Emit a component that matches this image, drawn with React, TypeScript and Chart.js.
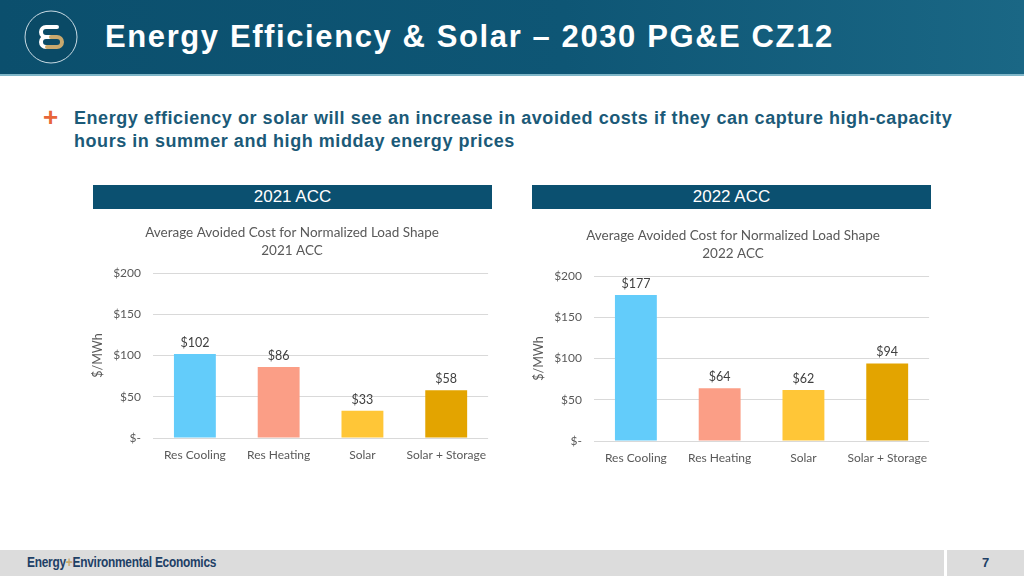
import React, { useEffect, useRef } from "react";
import { Chart, registerables } from "chart.js";

Chart.register(...registerables);

const categories = ["Res Cooling", "Res Heating", "Solar", "Solar + Storage"];
const values2021 = [102, 86, 33, 58];
const values2022 = [177, 64, 62, 94];
const yTickLabels = ["$-", "$50", "$100", "$150", "$200"];
const chartTitleLine = "Average Avoided Cost for Normalized Load Shape";
const yAxisTitle = "$/MWh";
const barColors = ["#63CCFA", "#FB9E86", "#FFC637", "#E3A400"];

const CHART_FONT = "Lato, 'Open Sans', sans-serif";
const GREY = "#595959";

const dataLabelPlugin = {
  id: "dataLabels",
  afterDatasetsDraw(chart: any) {
    const ctx = chart.ctx;
    chart.data.datasets.forEach((ds: any, i: number) => {
      const meta = chart.getDatasetMeta(i);
      meta.data.forEach((el: any, j: number) => {
        ctx.save();
        ctx.fillStyle = "#404040";
        ctx.font = `12.5px ${CHART_FONT}`;
        ctx.textAlign = "center";
        ctx.textBaseline = "bottom";
        ctx.fillText("$" + ds.data[j], el.x, el.y - 5);
        ctx.restore();
      });
    });
  },
};

function BarPanel(props: { left: number; top: number; year: string; values: number[] }) {
  const ref = useRef<HTMLCanvasElement | null>(null);
  useEffect(() => {
    if (!ref.current) return;
    const chart = new Chart(ref.current, {
      type: "bar",
      data: {
        labels: categories,
        datasets: [
          {
            data: props.values,
            backgroundColor: barColors,
            categoryPercentage: 1,
            barPercentage: 0.5,
          },
        ],
      },
      options: {
        animation: false,
        responsive: false,
        layout: { padding: { left: 0, right: 0, top: 0, bottom: 0 } },
        plugins: {
          legend: { display: false },
          tooltip: { enabled: false },
          title: {
            display: true,
            text: [chartTitleLine, props.year],
            color: GREY,
            font: { family: CHART_FONT, size: 13.5, weight: "normal", lineHeight: 1.3 },
            padding: { top: 0, bottom: 14 },
          },
        },
        scales: {
          x: {
            grid: { display: false, drawTicks: false },
            border: { display: false },
            ticks: {
              color: GREY,
              font: { family: CHART_FONT, size: 12 },
              padding: 10,
              maxRotation: 0,
              minRotation: 0,
              autoSkip: false,
            },
            afterFit: (scale: any) => {
              scale.height = 32;
            },
          },
          y: {
            min: 0,
            max: 200,
            border: { display: false },
            grid: { color: "#D9D9D9", drawTicks: false },
            ticks: {
              stepSize: 50,
              color: GREY,
              padding: 12,
              font: { family: CHART_FONT, size: 12 },
              callback: (_v: any, idx: number) => yTickLabels[idx],
            },
            title: {
              display: true,
              text: yAxisTitle,
              color: GREY,
              font: { family: CHART_FONT, size: 12.5 },
              padding: { top: 2, bottom: 0 },
            },
            afterFit: (scale: any) => {
              scale.width = 65;
            },
          },
        },
      } as any,
      plugins: [dataLabelPlugin],
    });
    return () => chart.destroy();
  }, []);
  return (
    <canvas
      ref={ref}
      width={408}
      height={246}
      style={{ position: "absolute", left: props.left, top: props.top, width: 408, height: 246 }}
    />
  );
}

function Logo() {
  return (
    <svg width={60} height={60} viewBox="0 0 60 60" style={{ position: "absolute", left: 21, top: 7 }}>
      <circle cx={30} cy={30} r={26} fill="#0a4a66" stroke="#c9dbe4" strokeWidth={1} />
      <path
        d="M36 20 H25 a5 5 0 0 0 0 10 H33 M25 30 a5 5 0 0 0 0 10 H30"
        fill="none"
        stroke="#ffffff"
        strokeWidth={4}
        strokeLinecap="round"
      />
      <path
        d="M30 30 H36 a5 5 0 0 1 0 10 H26"
        fill="none"
        stroke="#C9A96E"
        strokeWidth={4}
        strokeLinecap="round"
      />
    </svg>
  );
}

export default function App() {
  useEffect(() => {
    document.body.style.margin = "0";
  }, []);
  const arial = "'Liberation Sans', Arial, sans-serif";
  return (
    <div
      style={{
        position: "fixed",
        left: 0,
        top: 0,
        width: 1024,
        height: 576,
        overflow: "hidden",
        background: "#ffffff",
        fontFamily: arial,
      }}
    >
      {/* Header */}
      <div
        style={{
          position: "absolute",
          left: 0,
          top: 0,
          width: 1024,
          height: 74,
          background: "linear-gradient(90deg, #0b4f6d 0%, #0e5675 55%, #1a6785 100%)",
          borderBottom: "2px solid #7fb6c8",
        }}
      />
      <Logo />
      <div
        style={{
          position: "absolute",
          left: 105,
          top: 18,
          color: "#ffffff",
          fontWeight: "bold",
          fontSize: 31,
          letterSpacing: 1.6,
          lineHeight: "37px",
          whiteSpace: "nowrap",
        }}
      >
        Energy Efficiency &amp; Solar – 2030 PG&amp;E CZ12
      </div>

      {/* Subtitle */}
      <div
        style={{
          position: "absolute",
          left: 43,
          top: 102,
          color: "#E8663A",
          fontWeight: "bold",
          fontSize: 26,
          lineHeight: "30px",
        }}
      >
        +
      </div>
      <div
        style={{
          position: "absolute",
          left: 74,
          top: 107,
          width: 950,
          color: "#1B5A78",
          fontWeight: "bold",
          fontSize: 18,
          letterSpacing: 0.55,
          lineHeight: "23px",
          whiteSpace: "nowrap",
        }}
      >
        Energy efficiency or solar will see an increase in avoided costs if they can capture high-capacity
        <br />
        hours in summer and high midday energy prices
      </div>

      {/* Panel headers */}
      {[
        { left: 93, label: "2021 ACC" },
        { left: 532, label: "2022 ACC" },
      ].map((p) => (
        <div
          key={p.label}
          style={{
            position: "absolute",
            left: p.left,
            top: 185,
            width: 399,
            height: 24,
            background: "#0B5070",
            color: "#ffffff",
            fontSize: 17,
            lineHeight: "24px",
            textAlign: "center",
          }}
        >
          {p.label}
        </div>
      ))}

      <BarPanel left={88} top={224} year="2021 ACC" values={values2021} />
      <BarPanel left={529} top={227} year="2022 ACC" values={values2022} />

      {/* Footer */}
      <div
        style={{
          position: "absolute",
          left: 0,
          top: 550,
          width: 1024,
          height: 26,
          background: "#DCDCDC",
        }}
      />
      <div style={{ position: "absolute", left: 944, top: 550, width: 3, height: 26, background: "#ffffff" }} />
      <div
        style={{
          position: "absolute",
          left: 27,
          top: 553,
          fontFamily: "'Liberation Sans', sans-serif",
          fontWeight: "bold",
          fontSize: 14,
          lineHeight: "18px",
          color: "#1E4066",
          whiteSpace: "nowrap",
          transform: "scaleX(0.85)",
          transformOrigin: "left center",
          letterSpacing: -0.3,
        }}
      >
        Energy<span style={{ color: "#C9A96E" }}>+</span>Environmental Economics
      </div>
      <div
        style={{
          position: "absolute",
          left: 947,
          top: 554,
          width: 77,
          textAlign: "center",
          fontWeight: "bold",
          fontSize: 13,
          lineHeight: "18px",
          color: "#1E4066",
        }}
      >
        7
      </div>
    </div>
  );
}
